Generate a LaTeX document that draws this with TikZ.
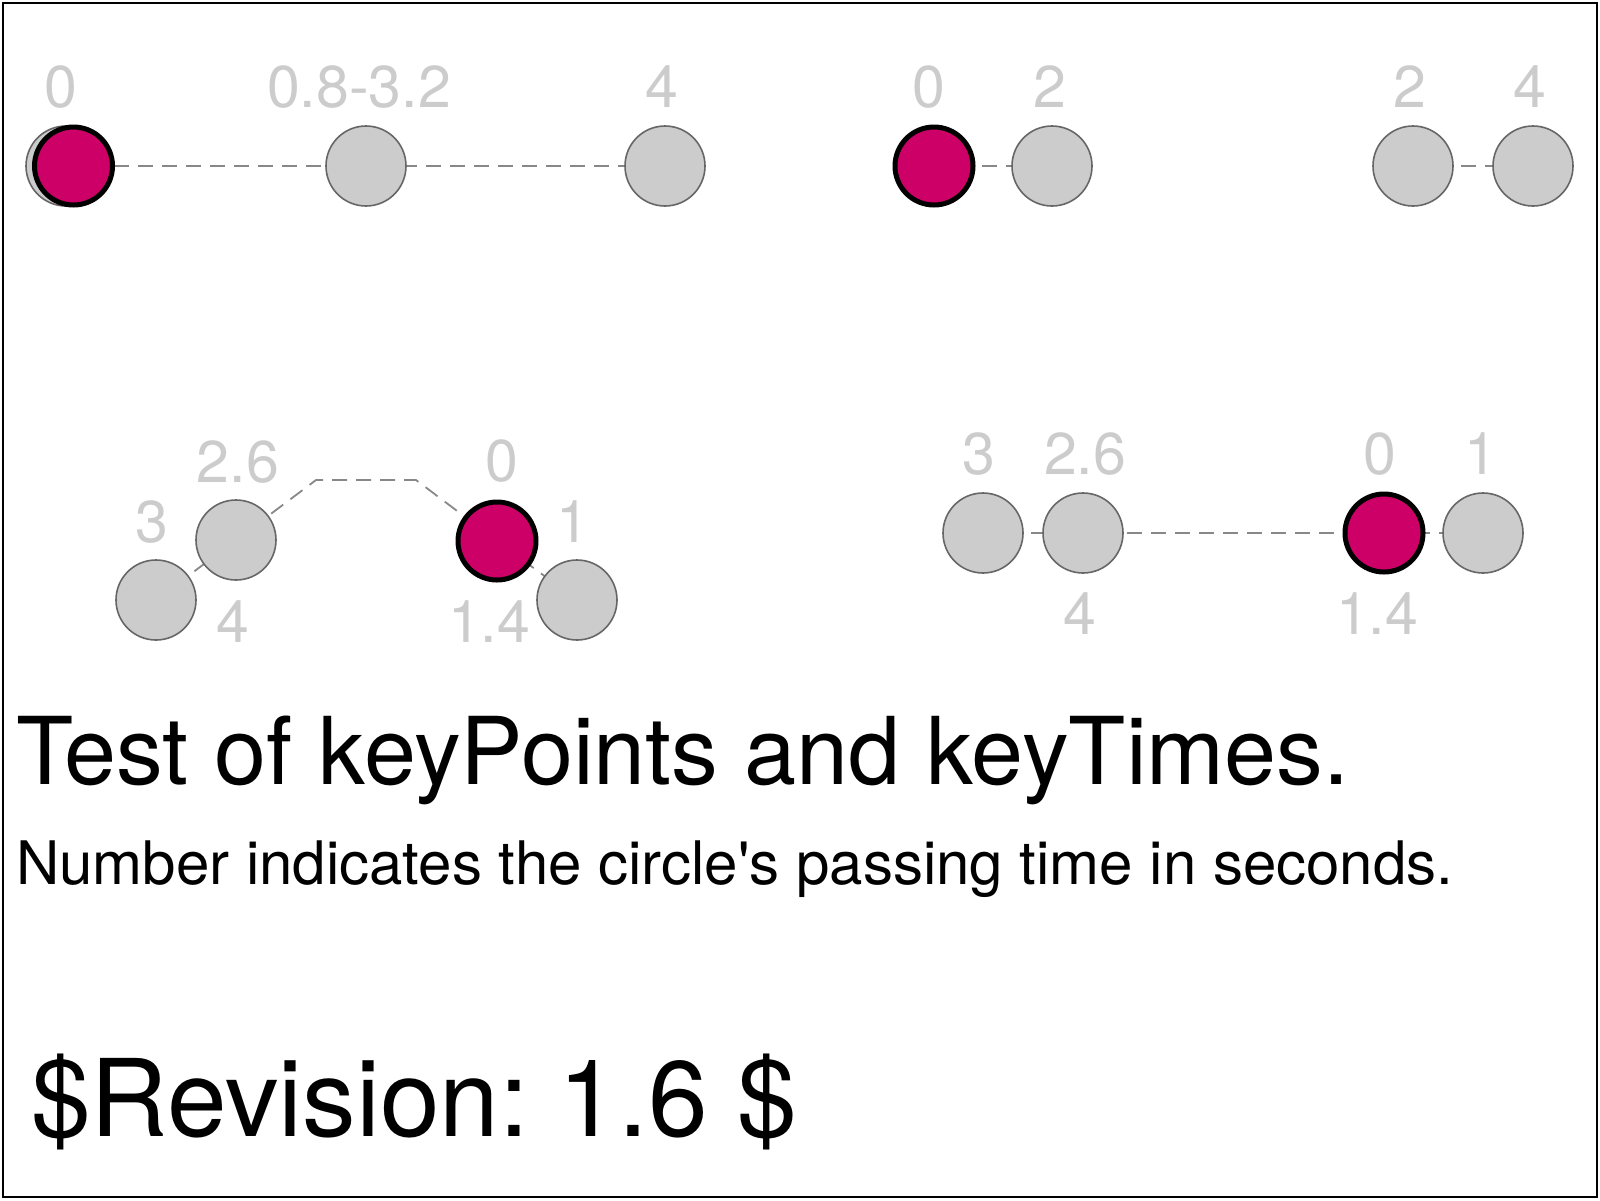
\documentclass[tikz,border=0pt]{standalone}
\usepackage{fontspec}
\setmainfont{TeX Gyre Heros}
\definecolor{pinkfill}{RGB}{204,0,102}
\definecolor{dotgray}{RGB}{204,204,204}
\definecolor{dotedge}{RGB}{102,102,102}
\definecolor{pathgray}{RGB}{136,136,136}
\definecolor{labgray}{RGB}{204,204,204}
\tikzset{
  dot/.style={circle, minimum size=80pt, inner sep=0pt, fill=dotgray, draw=dotedge, line width=1.6pt},
  mover/.style={circle, minimum size=78pt, inner sep=0pt, fill=pinkfill, draw=black, line width=5pt},
  lab/.style={text=labgray, inner sep=0pt, font=\fontsize{59}{61}\selectfont},
  trail/.style={draw=pathgray, line width=1.8pt, dash pattern=on 15pt off 9pt},
  bigtext/.style={anchor=base west, inner sep=0pt, text=black}
}
\begin{document}
\frenchspacing
\begin{tikzpicture}[x=1pt,y=-1pt]
\useasboundingbox (0,0) rectangle (1600,1200);
\fill[white] (0,0) rectangle (1600,1200);
\draw[line width=2.5pt] (3,3) rectangle (1597,1197);

% Row 1 left
\coordinate (a0) at (66,166);
\coordinate (a1) at (366,166);
\coordinate (a2) at (665,166);
\draw[trail] (a0) -- (a1) -- (a2);
\node[dot] (A0) at (a0) {};
\node[dot] (A1) at (a1) {};
\node[dot] (A2) at (a2) {};
\node[mover] (Am) at (73.5,166) {};
\node[lab] (la0) at (61,87) {0};
\node[lab] (la1) at (359,87) {0.8-3.2};
\node[lab] (la2) at (662,87) {4};

% Row 1 middle
\coordinate (b0) at (934,166);
\coordinate (b1) at (1052,166);
\draw[trail] (b0) -- (b1);
\node[dot] (B1) at (b1) {};
\node[mover] (Bm) at (b0) {};
\node[lab] (lb0) at (929,87) {0};
\node[lab] (lb1) at (1050,87) {2};

% Row 1 right
\coordinate (c0) at (1413,166);
\coordinate (c1) at (1533,166);
\draw[trail] (c0) -- (c1);
\node[dot] (C0) at (c0) {};
\node[dot] (C1) at (c1) {};
\node[lab] (lc0) at (1410,87) {2};
\node[lab] (lc1) at (1530,87) {4};

% Row 2 left
\coordinate (d0) at (156,600);
\coordinate (d1) at (236,540);
\coordinate (dk1) at (316,480);
\coordinate (dk2) at (416,480);
\coordinate (d2) at (497,541);
\coordinate (d3) at (577,600);
\draw[trail] (d0) -- (d1) -- (dk1) -- (dk2) -- (d2) -- (d3);
\node[dot] (D0) at (d0) {};
\node[dot] (D1) at (d1) {};
\node[dot] (D3) at (d3) {};
\node[mover] (Dm) at (d2) {};
\node[lab] (ld3) at (152,522) {3};
\node[lab] (ld26) at (238,462) {2.6};
\node[lab] (ld4) at (233,622) {4};
\node[lab] (ld0) at (502,461) {0};
\node[lab] (ld1) at (573,522) {1};
\node[lab] (ld14) at (489,622) {1.4};

% Row 2 right
\coordinate (e0) at (983,533);
\coordinate (e1) at (1083,533);
\coordinate (e2) at (1384,533);
\coordinate (e3) at (1483,533);
\draw[trail] (e0) -- (e1) -- (e2) -- (e3);
\node[dot] (E0) at (e0) {};
\node[dot] (E1) at (e1) {};
\node[dot] (E3) at (e3) {};
\node[mover] (Em) at (e2) {};
\node[lab] (le3) at (979,454) {3};
\node[lab] (le26) at (1085,454) {2.6};
\node[lab] (le4) at (1080,614) {4};
\node[lab] (le0) at (1380,454) {0};
\node[lab] (le1) at (1481,454) {1};
\node[lab] (le14) at (1377,614) {1.4};

% Texts
\node[bigtext, font=\fontsize{93.6}{96}\selectfont] (title) at (16,784) {Test of keyPoints and keyTimes.};
\node[bigtext, font=\fontsize{60}{64}\selectfont] (sub) at (16,884) {Number indicates the circle\textquotesingle s passing time in seconds.};
\node[bigtext, font=\fontsize{107.2}{110}\selectfont] (rev) at (31,1136) {\$Revision: 1.6 \$};
\end{tikzpicture}
\end{document}
